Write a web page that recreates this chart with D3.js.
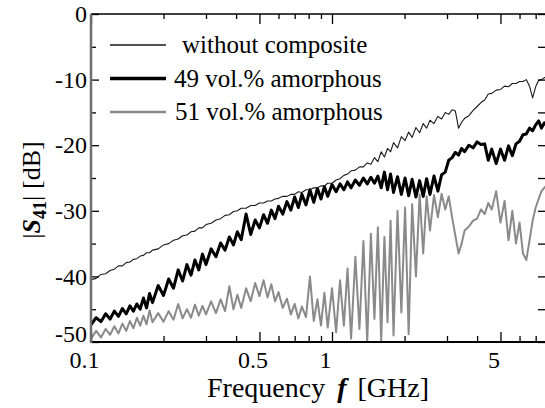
<!DOCTYPE html>
<html>
<head>
<meta charset="utf-8">
<script src="https://cdn.jsdelivr.net/npm/d3@7"></script>
<style>
body { margin: 0; background: #fff; }
#chart { width: 545px; height: 408px; overflow: hidden; }
svg { display: block; font-family: "Liberation Serif", "Times New Roman", serif; }
</style>
</head>
<body>
<div id="chart"></div>
<script>

// frequency grid [GHz], shared by the three traces
const freqGHz = [
    0.100,0.105,0.110,0.115,0.120,0.125,0.130,0.135,0.140,0.145,
    0.150,0.155,0.160,0.165,0.170,0.175,0.180,0.190,0.200,0.210,
    0.220,0.230,0.240,0.250,0.260,0.270,0.280,0.290,0.300,0.315,
    0.330,0.345,0.360,0.375,0.390,0.405,0.420,0.440,0.460,0.480,
    0.500,0.520,0.540,0.560,0.580,0.600,0.625,0.650,0.675,0.700,
    0.725,0.750,0.780,0.810,0.840,0.870,0.900,0.930,0.960,1.000,
    1.040,1.080,1.120,1.160,1.200,1.250,1.300,1.350,1.400,1.450,
    1.500,1.550,1.600,1.650,1.700,1.750,1.800,1.870,1.940,2.010,
    2.080,2.150,2.230,2.310,2.390,2.470,2.550,2.650,2.750,2.850,
    2.950,3.050,3.150,3.250,3.350,3.450,3.550,3.700,3.850,4.000,
    4.150,4.300,4.450,4.600,4.800,5.000,5.200,5.400,5.600,5.800,
    6.000,6.200,6.400,6.600,6.800,7.000,7.200,7.400,7.600,7.800
];

// |S41| [dB]
const withoutComposite = [
    -40.5,-40.3,-39.7,-39.6,-39.1,-38.9,-38.4,-38.4,-37.9,-37.8,
    -37.4,-37.3,-36.9,-36.8,-36.4,-36.4,-36.0,-35.8,-35.2,-35.0,
    -34.5,-34.3,-33.8,-33.7,-33.2,-33.1,-32.6,-32.6,-32.1,-31.9,
    -31.4,-31.2,-30.7,-30.6,-30.1,-30.0,-29.6,-29.6,-29.2,-29.2,
    -28.8,-28.8,-28.5,-28.5,-28.2,-28.1,-27.8,-27.8,-27.5,-27.5,
    -27.1,-27.2,-26.8,-26.8,-26.5,-26.5,-26.2,-26.2,-25.8,-25.8,
    -25.3,-25.1,-24.6,-24.4,-23.9,-23.8,-23.3,-23.3,-22.7,-22.9,
    -21.9,-22.5,-21.0,-21.8,-20.5,-21.0,-19.6,-20.4,-18.7,-19.3,
    -18.0,-18.8,-17.3,-18.1,-16.7,-17.4,-16.2,-16.7,-15.6,-16.0,
    -15.0,-15.3,-14.6,-14.8,-17.4,-16.5,-15.9,-15.5,-14.7,-14.1,
    -13.5,-13.1,-12.2,-12.1,-11.6,-11.5,-11.0,-11.1,-10.6,-10.6,
    -10.3,-10.3,-10.0,-11.0,-12.8,-11.1,-10.1,-10.0,-9.7,-9.7
];

const amorphous49 = [
    -47.4,-46.3,-46.9,-45.7,-46.5,-45.3,-46.1,-44.9,-45.7,-44.5,
    -45.3,-44.2,-45.0,-43.3,-44.8,-42.6,-44.0,-41.4,-42.9,-40.4,
    -41.8,-39.0,-40.7,-38.2,-39.8,-37.5,-39.0,-36.6,-38.2,-35.8,
    -37.0,-34.9,-36.0,-34.0,-35.2,-33.2,-34.4,-30.5,-33.6,-31.4,
    -32.6,-30.6,-31.9,-29.9,-31.2,-29.3,-30.5,-28.6,-29.9,-27.9,
    -29.5,-27.5,-29.1,-26.8,-28.7,-26.6,-28.2,-26.3,-27.8,-26.0,
    -27.1,-25.9,-26.8,-25.6,-26.5,-25.3,-26.1,-25.0,-25.9,-24.9,
    -25.8,-24.7,-26.5,-24.1,-26.8,-24.4,-27.2,-24.8,-27.5,-25.0,
    -27.7,-25.2,-27.9,-25.4,-27.8,-25.1,-27.5,-24.7,-27.0,-24.5,
    -24.1,-22.3,-21.9,-21.1,-21.5,-20.5,-21.0,-20.0,-20.4,-19.5,
    -19.9,-19.8,-22.3,-20.6,-22.8,-20.6,-22.3,-20.1,-21.6,-19.8,
    -19.4,-18.4,-18.3,-17.4,-17.8,-16.9,-16.3,-17.4,-16.6,-17.0
];

const amorphous51 = [
    -49.5,-48.3,-49.3,-48.0,-48.9,-47.6,-48.7,-47.2,-48.3,-46.8,
    -47.9,-46.3,-47.5,-46.0,-47.3,-45.2,-47.0,-45.6,-46.9,-45.3,
    -46.6,-44.2,-46.4,-45.0,-46.3,-44.3,-46.0,-44.5,-45.8,-43.8,
    -45.6,-43.5,-45.3,-41.5,-45.0,-42.8,-44.8,-41.8,-43.8,-41.0,
    -43.0,-40.6,-43.2,-41.2,-43.8,-42.4,-44.8,-43.4,-45.8,-44.2,
    -46.4,-44.6,-46.2,-40.0,-46.8,-43.5,-47.5,-42.5,-47.8,-41.8,
    -48.5,-40.6,-47.5,-38.8,-49.5,-37.0,-48.0,-34.6,-50.0,-33.5,
    -46.5,-32.5,-49.8,-34.0,-47.0,-31.5,-49.0,-30.0,-45.5,-29.5,
    -48.8,-29.0,-40.0,-27.5,-36.5,-27.8,-33.0,-27.6,-31.0,-27.4,
    -29.8,-27.8,-31.0,-33.8,-36.5,-35.0,-33.0,-32.4,-31.5,-31.2,
    -29.8,-30.5,-28.8,-29.8,-27.0,-31.8,-28.5,-34.5,-30.0,-35.0,
    -31.8,-36.5,-37.5,-34.5,-31.5,-29.5,-28.2,-27.0,-26.5,-26.0
];

const legendLabels = ["without composite", "49 vol.% amorphous", "51 vol.% amorphous"];

const xMajorTicks = [0.1, 0.5, 1, 5];
const xMinorTicks = [0.2, 0.3, 0.4, 0.6, 0.7, 0.8, 0.9, 2, 3, 4, 6, 7];
const yMajorTicks = [0, -10, -20, -30, -40, -50];
const yMinorTicks = [-5, -15, -25, -35, -45];


class S41Chart {

    constructor(parentElement) {
        this.parentElement = parentElement;
        this.series = [
            {label: legendLabels[0], values: withoutComposite, color: "#1a1a1a", width: 1.1, textX: 182},
            {label: legendLabels[1], values: amorphous49, color: "#000", width: 3, textX: 174},
            {label: legendLabels[2], values: amorphous51, color: "#8a8a8a", width: 2, textX: 175}
        ];
    }

    initVis() {
        let vis = this;

        vis.margin = {top: 14, right: -2, bottom: 66, left: 91};
        vis.width = 545 - vis.margin.left - vis.margin.right;
        vis.height = 408 - vis.margin.top - vis.margin.bottom;

        vis.root = d3.select("#" + vis.parentElement).append("svg")
            .attr("width", 545)
            .attr("height", 408);

        vis.svg = vis.root.append("g")
            .attr("transform", "translate(" + vis.margin.left + "," + vis.margin.top + ")");

        vis.svg.append("defs").append("clipPath")
            .attr("id", "clip")
            .append("rect")
            .attr("width", vis.width)
            .attr("height", vis.height);

        vis.x = d3.scaleLog()
            .domain([0.1, 7.8])
            .range([0, vis.width]);

        vis.y = d3.scaleLinear()
            .domain([-50, 0])
            .range([vis.height, 0]);

        vis.line = d3.line()
            .x(d => vis.x(d.f))
            .y(d => vis.y(d.v));

        vis.updateVis();
    }

    drawAxis(axis, transform, labelled) {
        let vis = this;
        let g = vis.svg.append("g")
            .attr("transform", transform)
            .call(axis);
        g.select(".domain").remove();
        g.attr("font-family", null).attr("font-size", null);
        g.selectAll(".tick line").attr("stroke", "#000").attr("stroke-width", 1.3);
        if (!labelled) g.selectAll(".tick text").remove();
        return g;
    }

    updateVis() {
        let vis = this;

        // traces: gray first, thick black, thin on top
        let order = [2, 1, 0];
        vis.svg.append("g")
            .attr("clip-path", "url(#clip)")
            .selectAll(".trace")
            .data(order.map(i => vis.series[i]))
            .enter().append("path")
            .attr("class", "trace")
            .attr("fill", "none")
            .attr("stroke", d => d.color)
            .attr("stroke-width", d => d.width)
            .attr("stroke-linejoin", "round")
            .attr("d", d => vis.line(freqGHz.map((f, i) => ({f: f, v: d.values[i]}))));

        // ticks on all four sides, pointing inwards
        let bx = vis.drawAxis(d3.axisBottom(vis.x).tickValues(xMajorTicks).tickSizeInner(-10)
            .tickSizeOuter(0).tickPadding(9).tickFormat(d => d), "translate(0," + vis.height + ")", true);
        bx.selectAll(".tick text").attr("dx", -7).style("font-size", "24px");
        vis.drawAxis(d3.axisBottom(vis.x).tickValues(xMinorTicks).tickSizeInner(-6).tickSizeOuter(0),
            "translate(0," + vis.height + ")", false);
        vis.drawAxis(d3.axisTop(vis.x).tickValues(xMajorTicks).tickSizeInner(-10).tickSizeOuter(0), null, false);
        vis.drawAxis(d3.axisTop(vis.x).tickValues(xMinorTicks).tickSizeInner(-5).tickSizeOuter(0), null, false);

        let ly = vis.drawAxis(d3.axisLeft(vis.y).tickValues(yMajorTicks).tickSizeInner(-8)
            .tickSizeOuter(0).tickPadding(4).tickFormat(d => String(d)), null, true);
        ly.selectAll(".tick text").style("font-size", "24px");
        // the bottom label sits a little above its tick, clear of "0.1"
        ly.selectAll(".tick text").filter(d => d === -50).attr("y", -8);
        vis.drawAxis(d3.axisLeft(vis.y).tickValues(yMinorTicks).tickSizeInner(-5).tickSizeOuter(0), null, false);
        vis.drawAxis(d3.axisRight(vis.y).tickValues(yMajorTicks.concat(yMinorTicks)).tickSizeInner(-9)
            .tickSizeOuter(0), "translate(" + vis.width + ",0)", false);

        // frame
        vis.svg.append("line").attr("x1", 0).attr("x2", vis.width).attr("y1", 0).attr("y2", 0)
            .attr("stroke", "#000").attr("stroke-width", 1.5);
        vis.svg.append("line").attr("x1", 0).attr("x2", vis.width).attr("y1", vis.height).attr("y2", vis.height)
            .attr("stroke", "#000").attr("stroke-width", 2);
        vis.svg.append("line").attr("x1", vis.width).attr("x2", vis.width).attr("y1", 0).attr("y2", vis.height)
            .attr("stroke", "#000").attr("stroke-width", 1.5);
        vis.svg.append("line").attr("x1", 0).attr("x2", 0).attr("y1", 0).attr("y2", vis.height + 1)
            .attr("stroke", "#6e6e6e").attr("stroke-width", 2.5);

        // legend
        let legend = vis.root.append("g").attr("class", "legend");
        vis.series.forEach((s, i) => {
            let cy = 45 + i * 33.5;
            legend.append("line")
                .attr("x1", 110).attr("x2", 166)
                .attr("y1", cy).attr("y2", cy)
                .attr("stroke", s.color)
                .attr("stroke-width", s.width + 0.4);
            legend.append("text")
                .attr("x", s.textX)
                .attr("y", cy + 8)
                .style("font-size", "25px")
                .text(s.label);
        });

        // axis titles
        let xt = vis.root.append("text")
            .attr("x", 207)
            .attr("y", 397)
            .style("font-size", "28px");
        xt.append("tspan").text("Frequency");
        xt.append("tspan").attr("dx", 12).attr("font-weight", "bold").attr("font-style", "italic").text("f");
        xt.append("tspan").attr("dx", 11).text("[GHz]");

        let yt = vis.root.append("text")
            .attr("transform", "translate(40,190) rotate(-90)")
            .attr("text-anchor", "middle")
            .style("font-size", "26px");
        yt.append("tspan").text("|");
        yt.append("tspan").attr("font-weight", "bold").attr("font-style", "italic").text("S");
        yt.append("tspan").attr("font-weight", "bold").attr("dy", 6).style("font-size", "18px").text("41");
        yt.append("tspan").attr("dy", -6).text("|");
        yt.append("tspan").attr("dx", 7).text("[dB]");
    }
}

let chart = new S41Chart("chart");
chart.initVis();

</script>
</body>
</html>
